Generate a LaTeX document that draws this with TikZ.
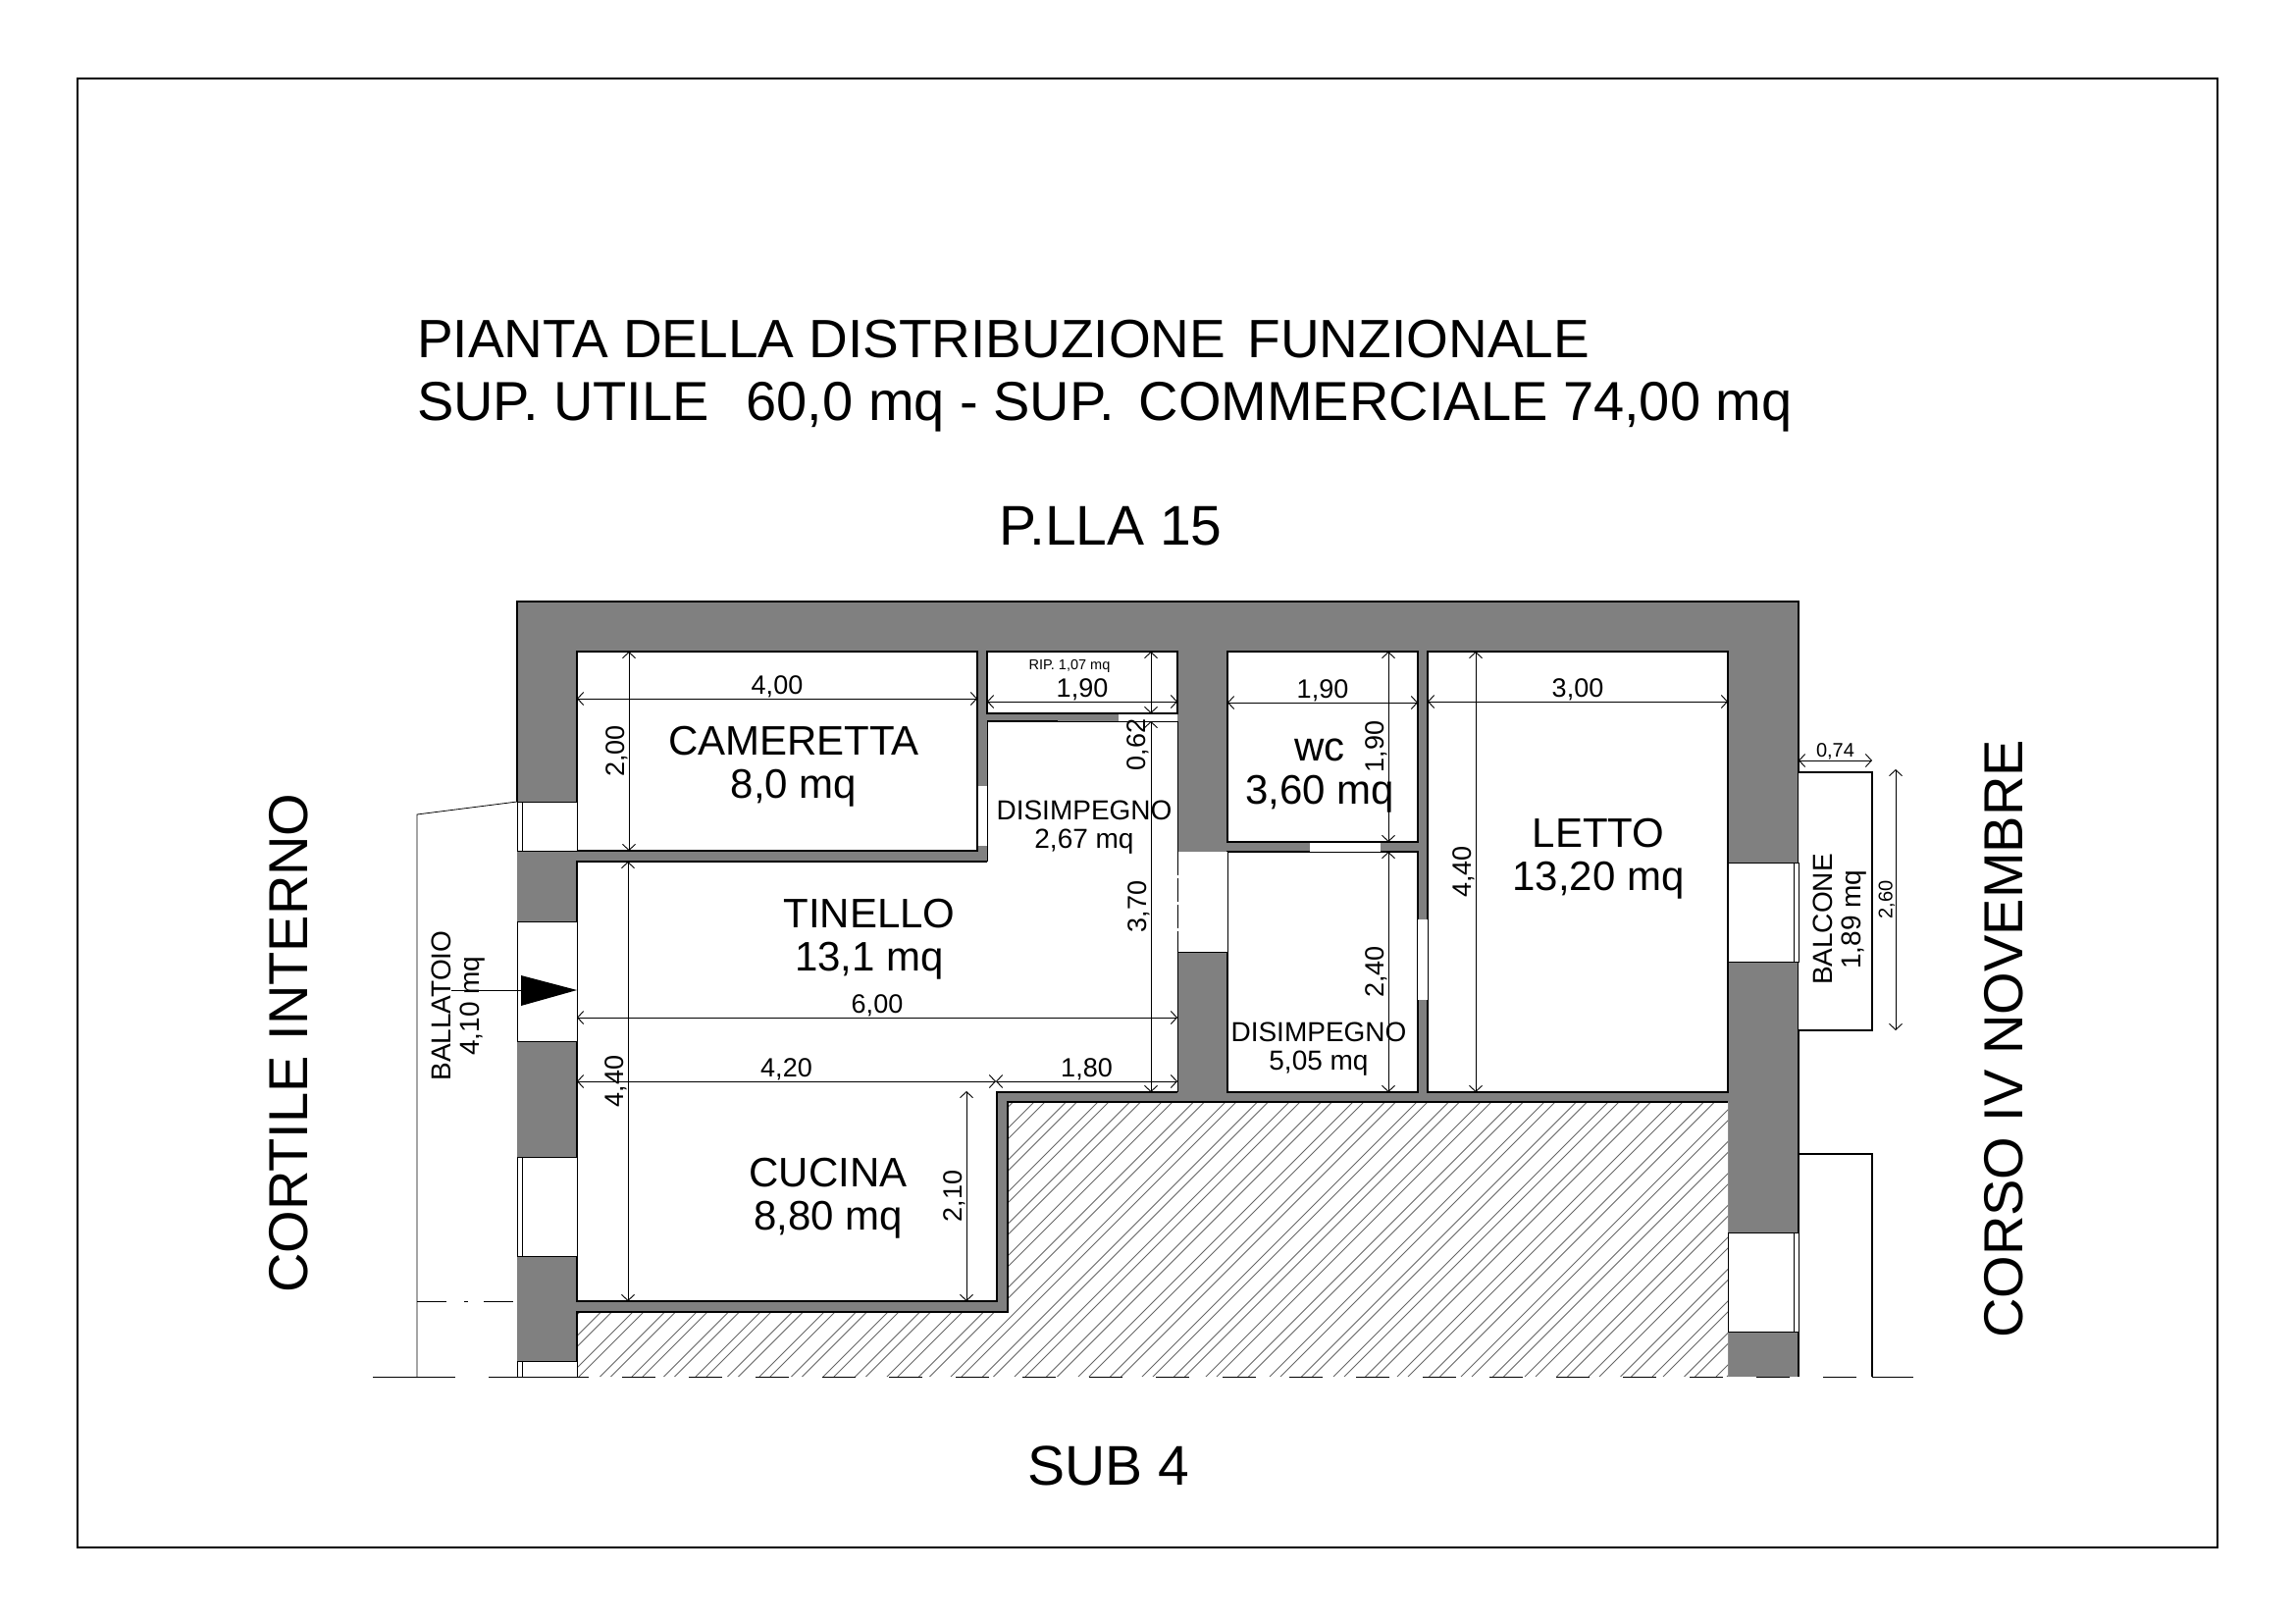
\documentclass[tikz,border=0pt]{standalone}
\usepackage{fontspec}
\setmainfont{Liberation Sans}
\usetikzlibrary{arrows.meta}
\definecolor{wallgray}{HTML}{808080}
\newcommand{\fsz}[1]{\fontsize{#1}{#1}\selectfont}
\tikzstyle{wall} = [fill=wallgray, draw=none]
\tikzstyle{room} = [line width=2.6pt, draw=black]
\tikzstyle{opening} = [fill=white, draw=black, line width=0.8pt]
\tikzstyle{frameline} = [line width=0.8pt, draw=black]
\tikzstyle{hatchline} = [line width=1pt, draw=black!60]
\tikzstyle{dim} = [line width=0.9pt, {Straight Barb[length=6pt,width=13pt]}-{Straight Barb[length=6pt,width=13pt]}]
\tikzstyle{dimtext} = [font=\fsz{27}, inner sep=0.5pt, midway]
\tikzstyle{title} = [font=\fsz{56}, anchor=base west, inner sep=0pt]
\tikzstyle{street} = [font=\fsz{56}, inner sep=0pt]
\tikzstyle{roomname} = [font=\fontsize{42}{44}\selectfont, inner sep=0pt, align=center]
\tikzstyle{smallname} = [font=\fontsize{28}{29}\selectfont, inner sep=0pt, align=center]
\begin{document}
\begin{tikzpicture}[x=1pt, y=-1pt]
    \useasboundingbox (0,0) rectangle (2339,1654);
    \draw [line width=1.5pt] (79,80) rectangle (2260,1577);

    % walls
    \fill [wall] (527,613) rectangle (1833,1403);

    % hatched part
    \begin{scope}
        \fill [white] (588,1337) -- (1027,1337) -- (1027,1123) -- (1761,1123) -- (1761,1403) -- (588,1403) -- cycle;
        \clip (588,1337) -- (1027,1337) -- (1027,1123) -- (1761,1123) -- (1761,1403) -- (588,1403) -- cycle;
        \foreach \hk in {-15,...,31} {
            \draw [hatchline] ({2177+\hk*32.5-1403},1403) -- ({2177+\hk*32.5-1123},1123);
            \draw [hatchline] ({2188+\hk*32.5-1403},1403) -- ({2188+\hk*32.5-1123},1123);
        }
    \end{scope}
    \draw [room] (588,1403) -- (588,1337) -- (1027,1337) -- (1027,1123) -- (1761,1123);

    % rooms
    \draw [room, fill=white] (588,664) rectangle (996,867);
    \draw [room, fill=white] (1006,664) rectangle (1200,727);
    \draw [room, fill=white] (1251,664) rectangle (1445,858);
    \draw [room, fill=white] (1455,664) rectangle (1761,1113);
    \fill [white] (1251,868) rectangle (1445,1113);
    \draw [room] (1251,868) -- (1445,868) -- (1445,1113) -- (1251,1113) -- cycle;
    \fill [white] (588,878) -- (1006,878) -- (1006,735) -- (1200,735) -- (1200,1113) -- (1016,1113) -- (1016,1326) -- (588,1326) -- cycle;
    \draw [room] (1006,878) -- (588,878) -- (588,1326) -- (1016,1326) -- (1016,1113) -- (1200,1113);
    \draw [frameline] (1006,735) -- (1006,878);
    \draw [frameline] (1006,735) -- (1200,735) -- (1200,1113);
    \draw [room] (1006,735) -- (1078,735);

    % outside of the walls
    \draw [room] (527,817) -- (527,613) -- (1833,613) -- (1833,1403);
    \draw [room, fill=white] (1833,787) -- (1908,787) -- (1908,1050) -- (1833,1050);
    \draw [room] (1833,1176) -- (1908,1176) -- (1908,1403);
    \draw [frameline] (527,817) -- (425,830) -- (425,1403);
    \draw [frameline, dash pattern=on 30pt off 18pt on 4pt off 16pt] (425,1326) -- (527,1326);

    % windows and doors
    \draw [opening] (527,817) rectangle (588,867);
    \draw [opening] (527,939) rectangle (588,1061);
    \draw [opening] (527,1179) rectangle (588,1280);
    \draw [opening] (527,1387) rectangle (588,1403);
    \draw [opening] (1761,879) rectangle (1833,980);
    \draw [opening] (1761,1256) rectangle (1833,1357);
    \foreach \wy/\wz in {817/867, 1179/1280, 1387/1403}
        \draw [frameline] (532,\wy) -- (532,\wz);
    \foreach \wy/\wz in {879/980, 1256/1357}
        \draw [frameline] (1828,\wy) -- (1828,\wz);
    \fill [white] (996,801) rectangle (1006,862);
    \draw [frameline] (996,801) -- (996,862);
    \fill [white] (1140,727) rectangle (1200,735);
    \draw [frameline] (1140,727) -- (1200,727) (1140,735) -- (1200,735);
    \fill [white] (1335,858) rectangle (1407,868);
    \draw [frameline] (1335,858) -- (1407,858) (1335,868) -- (1407,868);
    \fill [white] (1445,937) rectangle (1455,1019);
    \draw [frameline] (1455,937) -- (1455,1019);
    \fill [white] (1200,868) rectangle (1251,970);
    \draw [frameline, dash pattern=on 24pt off 3pt] (1200,868) -- (1200,970);
    \draw [frameline, dash pattern=on 24pt off 3pt] (1251,868) -- (1251,970);
    \draw [frameline] (1200,970) -- (1251,970);

    % ground line
    \fill [white] (380,1404) rectangle (1950,1408);
    \draw [frameline] (380,1403) -- (430,1403);
    \draw [frameline, dash pattern=on 34pt off 34pt] (430,1403) -- (1908,1403);
    \draw [frameline] (1908,1403) -- (1950,1403);

    % entrance
    \fill [black] (531,994) -- (588,1009) -- (531,1025) -- cycle;
    \draw [frameline] (460,1009) -- (531,1009);

    % dimensions
    \draw [dim] (588,712) -- node [dimtext, above] {4,00} (996,712);
    \draw [dim] (641,867) -- node [dimtext, sloped, above] {2,00} (641,664);
    \draw [dim] (1006,715) -- node [dimtext, above] {1,90} (1200,715);
    \draw [dim] (1173,664) -- (1173,727);
    \draw [dim] (1173,1113) -- node [dimtext, sloped, above] {3,70} (1173,735);
    \draw [dim] (1251,716) -- node [dimtext, above] {1,90} (1445,716);
    \draw [dim] (1415,858) -- node [dimtext, sloped, above] {1,90} (1415,664);
    \draw [dim] (1415,1113) -- node [dimtext, sloped, above] {2,40} (1415,868);
    \draw [dim] (1455,715) -- node [dimtext, above] {3,00} (1761,715);
    \draw [dim] (1504,1113) -- node [dimtext, sloped, above] {4,40} (1504,664);
    \draw [dim] (640,1326) -- node [dimtext, sloped, above] {4,40} (640,878);
    \draw [dim] (588,1037) -- node [dimtext, above] {6,00} (1200,1037);
    \draw [dim] (588,1102) -- node [dimtext, above] {4,20} (1015,1102);
    \draw [dim] (1015,1102) -- node [dimtext, above] {1,80} (1200,1102);
    \draw [dim] (985,1326) -- node [dimtext, sloped, above] {2,10} (985,1112);
    \draw [dim] (1833,775) -- node [dimtext, above, font=\fsz{20}] {0,74} (1908,775);
    \draw [dim] (1932,1050) -- node [dimtext, sloped, above, font=\fsz{20}] {2,60} (1932,784);
    \node (DIMRIP) [font=\fsz{27}, rotate=90, inner sep=0pt] at (1160,759) {0,62};

    % texts
    \node (TITLEA) [title, font=\fsz{55}] at (425,364) {PIANTA DELLA DISTRIBUZIONE\hspace{7pt} FUNZIONALE};
    \node (TITLEB) [title] at (425,428) {SUP. UTILE\hspace{22pt} 60,0 mq - SUP.\hspace{9pt} COMMERCIALE 74,00 mq};
    \node (PLLA) [street, font=\fsz{57}] at (1132,536) {P.LLA 15};
    \node (SUB) [street, font=\fsz{57}] at (1130,1494) {SUB 4};
    \node (CORTILE) [street, rotate=90] at (294,1063) {CORTILE INTERNO};
    \node (CORSO) [street, rotate=90] at (2042,1059) {CORSO IV NOVEMBRE};

    \node (CAMERETTA) [roomname] at (809,781) {CAMERETTA\\8,0 mq};
    \node (TINELLO) [roomname] at (886,957) {TINELLO\\13,1 mq};
    \node (CUCINA) [roomname] at (844,1221) {CUCINA\\8,80 mq};
    \node (WC) [roomname] at (1345,791) {wc\\3,60 mq};
    \node (LETTO) [roomname] at (1629,875) {LETTO\\13,20 mq};
    \node (DISIMPA) [smallname] at (1105,843) {DISIMPEGNO\\2,67 mq};
    \node (DISIMPB) [smallname] at (1344,1069) {DISIMPEGNO\\5,05 mq};
    \node (RIP) [font=\fsz{14.5}, inner sep=0pt] at (1090,679) {RIP. 1,07 mq};
    \node (BALLATOIO) [smallname, rotate=90] at (467,1025) {BALLATOIO\\4,10 mq};
    \node (BALCONE) [smallname, rotate=90] at (1875,937) {BALCONE\\1,89 mq};
\end{tikzpicture}
\end{document}
